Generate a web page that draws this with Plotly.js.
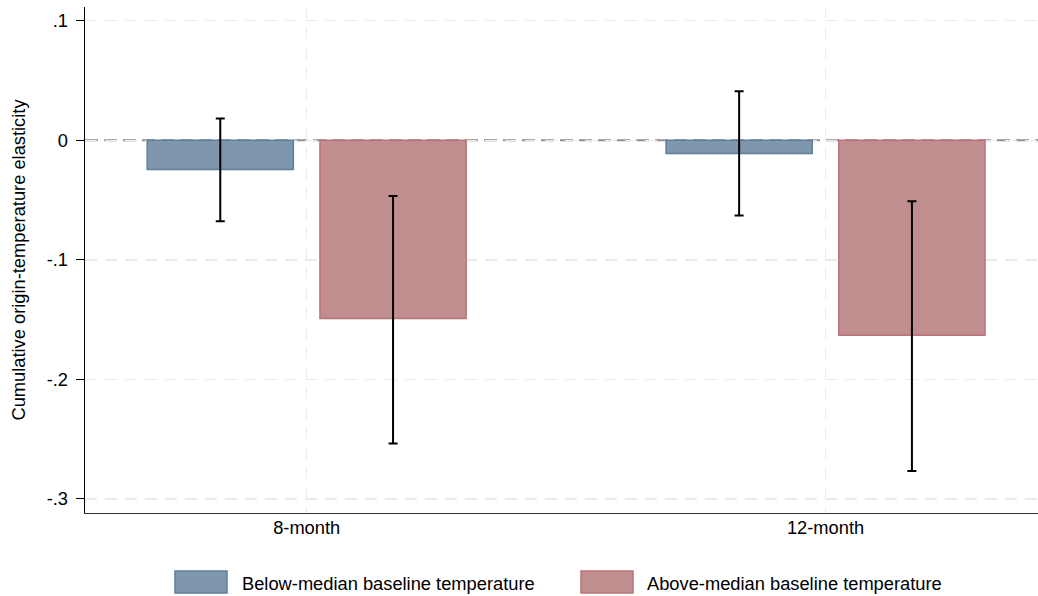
<!DOCTYPE html>
<html>
<head>
<meta charset="utf-8">
<script src="https://cdn.plot.ly/plotly-3.0.1.min.js"></script>
<style>html,body{margin:0;padding:0;background:#fff;}</style>
</head>
<body>
<div id="chart" style="width:1038px;height:596px;"></div>
<script>
// ---- data ----
var categories = ["8-month", "12-month"];
var seriesNames = ["Below-median baseline temperature", "Above-median baseline temperature"];
var belowVal = [-0.0245, -0.0111];
var belowHi  = [0.0182, 0.0410];
var belowLo  = [-0.0678, -0.0630];
var aboveVal = [-0.1492, -0.1632];
var aboveHi  = [-0.0466, -0.0510];
var aboveLo  = [-0.2538, -0.2767];
var yTickVals = [0.1, 0, -0.1, -0.2, -0.3];
var yTickText = [".1", "0", "-.1", "-.2", "-.3"];
var yTitle = "Cumulative origin-temperature elasticity";

// ---- styles ----
var FONT = '"Liberation Sans", Arial, Helvetica, sans-serif';
var FS = 18.3;
var blueFill = "#7f97ad", blueLine = "#607e9c";
var redFill = "#c18e90", redLine = "#b87378";
var M = {l: 85, r: 0, t: 7, b: 83};
var W = 1038, H = 596;
var pw = W - M.l - M.r, ph = H - M.t - M.b;
function px2x(px) { return (px - M.l) / pw; }
function py2y(py) { return (H - M.b - py) / ph; }

function errs(val, hi, lo) {
  return {
    type: "data", symmetric: false,
    array: val.map(function (v, i) { return hi[i] - v; }),
    arrayminus: val.map(function (v, i) { return v - lo[i]; }),
    color: "#000000", thickness: 2, width: 4.5
  };
}

var traces = [
  {type: "bar", x: categories, y: belowVal, name: seriesNames[0],
   marker: {color: blueFill, line: {color: blueLine, width: 1.5}},
   error_y: errs(belowVal, belowHi, belowLo), showlegend: false, hoverinfo: "skip"},
  {type: "bar", x: categories, y: aboveVal, name: seriesNames[1],
   marker: {color: redFill, line: {color: redLine, width: 1.5}},
   error_y: errs(aboveVal, aboveHi, aboveLo), showlegend: false, hoverinfo: "skip"}
];

// legend drawn manually (large swatches as in the reference)
var legBoxes = [[175, 227], [581, 633]];
var legTextX = [240, 645];
var shapes = [
  {type: "line", xref: "paper", yref: "y", x0: 0, x1: 1, y0: 0, y1: 0,
   line: {color: "#8f8f8f", width: 2, dash: "13px,6px"}, layer: "between"}
];
var annotations = [];
var fills = [blueFill, redFill], lines = [blueLine, redLine];
for (var i = 0; i < 2; i++) {
  shapes.push({type: "rect", xref: "paper", yref: "paper",
    x0: px2x(legBoxes[i][0]), x1: px2x(legBoxes[i][1]), y0: py2y(593), y1: py2y(571),
    fillcolor: fills[i], line: {color: lines[i], width: 1.5}});
  annotations.push({xref: "paper", yref: "paper", x: px2x(legTextX[i]), y: py2y(583),
    xanchor: "left", yanchor: "middle", showarrow: false, text: seriesNames[i],
    font: {family: FONT, size: FS, color: "#000"}});
}

var layout = {
  width: W, height: H,
  margin: M,
  paper_bgcolor: "#ffffff", plot_bgcolor: "#ffffff",
  font: {family: FONT, size: FS, color: "#000"},
  barmode: "group", bargap: 0.334, bargroupgap: 0.154,
  showlegend: false,
  xaxis: {
    type: "category", range: [-0.4272, 1.4095],
    showgrid: true, gridcolor: "#ebebeb", gridwidth: 1.5, griddash: "12px,8px",
    showline: true, linecolor: "#333", linewidth: 1.3,
    ticks: "", zeroline: false, ticklabelstandoff: -2,
    tickfont: {family: FONT, size: FS, color: "#000"}
  },
  yaxis: {
    range: [-0.3119, 0.1115],
    tickvals: yTickVals, ticktext: yTickText,
    showgrid: true, gridcolor: "#ebebeb", gridwidth: 1.5, griddash: "12px,8px",
    showline: true, linecolor: "#000", linewidth: 1.3,
    ticks: "outside", ticklen: 8, tickwidth: 1.2, tickcolor: "#000",
    zeroline: false, ticklabelstandoff: 4,
    tickfont: {family: FONT, size: FS, color: "#000"},
    title: {text: yTitle, font: {family: FONT, size: FS, color: "#000"}, standoff: 16}
  },
  shapes: shapes,
  annotations: annotations
};

Plotly.newPlot("chart", traces, layout, {displayModeBar: false, staticPlot: true});
</script>
</body>
</html>
